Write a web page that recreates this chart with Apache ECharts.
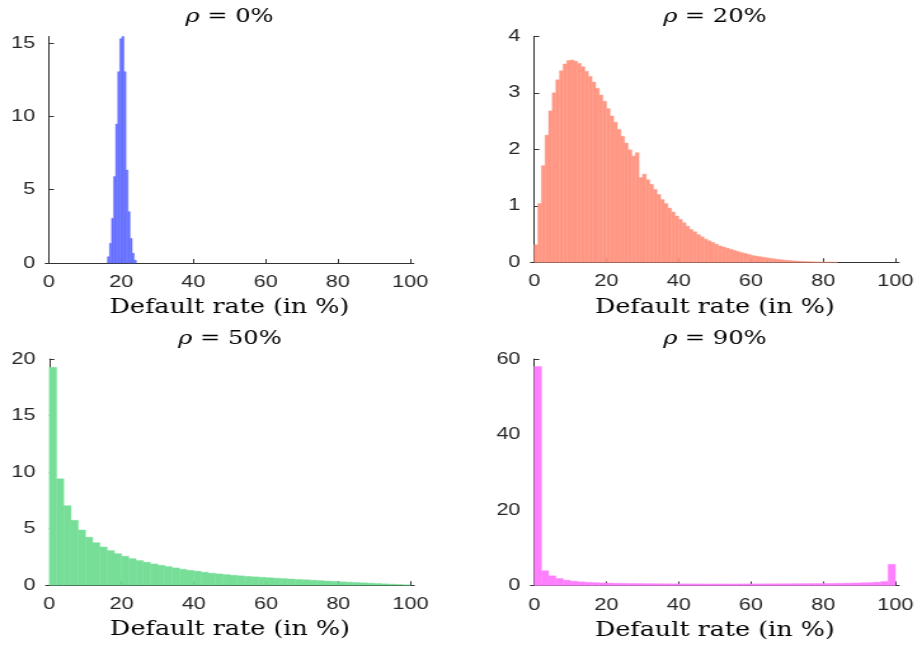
<!DOCTYPE html>
<html><head><meta charset="utf-8">
<script src="https://cdn.jsdelivr.net/npm/echarts@6/dist/echarts.min.js"></script>
<style>
html,body{margin:0;padding:0;background:#fff;overflow:hidden;width:920px;height:649px}
#c{width:724.4px;height:649px;transform:scaleX(1.27);transform-origin:0 0}
</style>
</head><body><div id="c"></div>
<script>
// ---- data ----
const xTickValues = [0, 20, 40, 60, 80, 100];
const panelTitles = ['0%', '20%', '50%', '90%'];
const xLabel = 'Default rate (in %)';

// rho = 0% : narrow histogram around 20%
const rho0BinStart = 16.2, rho0BinWidth = 0.57;
const rho0Heights = [0.43, 1.34, 3.05, 5.9, 9.48, 13.05, 15.3, 15.45, 13.05, 6.34, 3.5, 1.68, 0.66, 0.2];
const rho0YTicks = [0, 5, 10, 15];

// rho = 20% : 1% bins
const rho20BinStart = 0, rho20BinWidth = 1;
const rho20Heights = [0.31,1.04,1.71,2.25,2.68,3.0,3.23,3.39,3.51,3.57,3.58,3.56,3.52,3.46,3.38,3.29,3.19,3.08,2.96,2.85,
  2.72,2.59,2.48,2.35,2.23,2.11,1.99,1.88,1.94,1.5,1.56,1.46,1.38,1.29,1.2,1.11,1.04,0.96,0.89,0.82,
  0.76,0.70,0.64,0.58,0.54,0.49,0.45,0.41,0.38,0.35,0.32,0.29,0.27,0.25,0.23,0.21,0.19,0.17,0.155,0.14,
  0.12,0.11,0.10,0.09,0.08,0.07,0.06,0.052,0.045,0.038,0.032,0.027,0.023,0.019,0.015,0.012,0.01,0.008,0.006,0.004,
  0.003,0.002,0.001,0.001];
const rho20YTicks = [0, 1, 2, 3, 4];

// rho = 50% : 2% bins
const rho50BinStart = 0, rho50BinWidth = 2;
const rho50Heights = [19.26,9.41,7.03,5.74,4.88,4.24,3.76,3.38,3.06,2.79,2.56,2.35,2.18,2.03,1.88,1.76,1.65,1.53,1.41,1.32,
  1.24,1.15,1.06,1.0,0.94,0.88,0.83,0.78,0.74,0.70,0.66,0.62,0.58,0.55,0.51,0.48,0.44,0.41,0.37,0.34,
  0.30,0.27,0.24,0.21,0.18,0.15,0.12,0.09,0.06,0.03];
const rho50YTicks = [0, 5, 10, 15, 20];

// rho = 90% : 2% bins
const rho90BinStart = 0, rho90BinWidth = 2;
const rho90Heights = [58.0,3.9,2.56,1.85,1.41,1.15,0.97,0.85,0.76,0.69,0.64,0.6,0.57,0.54,0.52,0.5,0.48,0.47,0.46,0.45,
  0.44,0.43,0.43,0.42,0.42,0.42,0.42,0.42,0.42,0.43,0.43,0.44,0.45,0.46,0.47,0.48,0.5,0.51,0.52,0.53,
  0.55,0.57,0.6,0.63,0.67,0.72,0.78,0.88,1.06,5.6];
const rho90YTicks = [0, 20, 40, 60];

// ---- chart (drawn in a canvas that is stretched horizontally by SX) ----
const SX = 1.27;
const px = v => v / SX;
const panels = [
  {start: rho0BinStart, width: rho0BinWidth, h: rho0Heights, yMax: 15.45, yTicks: rho0YTicks, color: '#6670ff',
   grid: {left: px(45.3), top: 36.5, width: px(368.4), height: 226.5}},
  {start: rho20BinStart, width: rho20BinWidth, h: rho20Heights, yMax: 4, yTicks: rho20YTicks, color: '#ff9784',
   grid: {left: px(530.6), top: 36.3, width: px(368.4), height: 226}},
  {start: rho50BinStart, width: rho50BinWidth, h: rho50Heights, yMax: 20, yTicks: rho50YTicks, color: '#77de98',
   grid: {left: px(45.7), top: 359, width: px(368.4), height: 226.2}},
  {start: rho90BinStart, width: rho90BinWidth, h: rho90Heights, yMax: 60, yTicks: rho90YTicks, color: '#ff80ff',
   grid: {left: px(530.6), top: 359, width: px(368.4), height: 226.5}}
];

const axisColor = '#333333';
const tickFont = {fontFamily: 'Liberation Sans', fontSize: 17, color: '#262626'};

const option = {
  animation: false,
  backgroundColor: '#ffffff',
  title: panels.map((p, i) => ({
    text: '{i|ρ} = ' + panelTitles[i],
    left: p.grid.left + p.grid.width / 2,
    top: p.grid.top - 29,
    textAlign: 'center',
    padding: 0,
    textStyle: {fontFamily: 'DejaVu Serif', fontSize: 19, fontWeight: 'normal', color: '#000',
      rich: {i: {fontFamily: 'DejaVu Serif', fontStyle: 'italic', fontSize: 19, color: '#000'}}}
  })),
  grid: panels.map(p => Object.assign({containLabel: false}, p.grid)),
  xAxis: panels.map((p, i) => ({
    type: 'value', gridIndex: i, min: -1, max: 101,
    name: xLabel, nameLocation: 'middle', nameGap: 35,
    nameTextStyle: {fontFamily: 'DejaVu Serif', fontSize: 20, color: '#000'},
    axisLine: {show: true, onZero: false, lineStyle: {color: axisColor, width: 1}},
    axisTick: {show: true, inside: true, length: 4, customValues: xTickValues, lineStyle: {color: axisColor}},
    axisLabel: Object.assign({customValues: xTickValues, margin: 11}, tickFont),
    splitLine: {show: false}
  })),
  yAxis: panels.map((p, i) => ({
    type: 'value', gridIndex: i, min: 0, max: p.yMax,
    axisLine: {show: true, lineStyle: {color: axisColor, width: 1}},
    axisTick: {show: true, inside: true, length: 4, customValues: p.yTicks, lineStyle: {color: axisColor}},
    axisLabel: Object.assign({customValues: p.yTicks, margin: 8}, tickFont),
    splitLine: {show: false}
  })),
  series: panels.map((p, i) => ({
    type: 'custom', xAxisIndex: i, yAxisIndex: i,
    data: p.h.map((v, k) => [p.start + k * p.width, p.start + (k + 1) * p.width, v]),
    renderItem: function (params, api) {
      const a = api.coord([api.value(0), api.value(2)]);
      const b = api.coord([api.value(1), 0]);
      return {type: 'rect', shape: {x: a[0], y: a[1], width: b[0] - a[0], height: b[1] - a[1]},
        style: {fill: p.color, stroke: p.color, lineWidth: 0.4}};
    },
    z: 1
  }))
};

const chart = echarts.init(document.getElementById('c'), null, {renderer: 'canvas', width: 724.4, height: 649});
chart.setOption(option);
</script>
</body></html>
